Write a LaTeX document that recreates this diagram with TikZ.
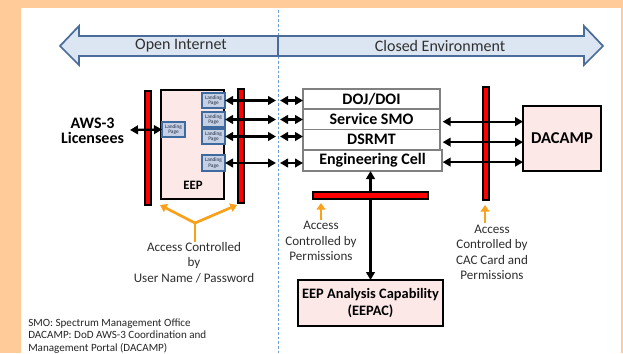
\documentclass[tikz,border=0pt]{standalone}
\usepackage{fontspec}
\setmainfont{Carlito}
\usetikzlibrary{arrows.meta}
\definecolor{bgorange}{HTML}{FFCC99}
\definecolor{bandfill}{HTML}{DCE6F2}
\definecolor{bandborder}{HTML}{4A6C9B}
\definecolor{bandtext}{HTML}{303030}
\definecolor{dashblue}{HTML}{6A9FD8}
\definecolor{boxpink}{HTML}{FDE8E8}
\definecolor{lpfill}{HTML}{C6D0E4}
\definecolor{lpborder}{HTML}{3F6AA0}
\definecolor{lptext}{HTML}{1F2A44}
\definecolor{stackgray}{HTML}{808080}
\definecolor{accorange}{HTML}{F9A11B}
\definecolor{labelgray}{HTML}{2E2E2E}
\tikzset{
  redbar/.style={draw=black, fill=red, line width=1pt, inner sep=0pt, outer sep=0pt, anchor=north west},
  pinkbox/.style={draw=black, fill=boxpink, line width=1.4pt, inner sep=0pt, outer sep=0pt, anchor=north west},
  lpbox/.style={draw=lpborder, fill=lpfill, line width=1.1pt, inner sep=0pt, outer sep=0pt, anchor=north west,
    minimum width=23*0.75pt, minimum height=15*0.75pt, align=center,
    font=\fontsize{4}{4.3}\selectfont, text=lptext},
  stackbox/.style={draw=stackgray, fill=white, line width=0.9pt, inner sep=0pt, outer sep=0pt, anchor=north west,
    minimum width=137*0.75pt, font=\bfseries\fontsize{12}{14}\selectfont},
  boldlbl/.style={font=\bfseries\fontsize{12}{11.3}\selectfont, align=center, inner sep=0pt},
  conn/.style={line width=1.7pt, {Triangle[length=6pt,width=6.5pt]}-{Triangle[length=6pt,width=6.5pt]}},
  oarrow/.style={draw=accorange, line width=2pt, -{Triangle[length=5pt,width=6.5pt]}},
  oline/.style={draw=accorange, line width=2pt},
  acctext/.style={font=\fontsize{9.8}{11.6}\selectfont, text=labelgray, align=center, inner sep=0pt},
  bandlbl/.style={font=\fontsize{12}{14}\selectfont, text=bandtext, inner sep=0pt},
}
\begin{document}
\begin{tikzpicture}[x=0.75pt, y=-0.75pt]
\useasboundingbox (0,0) rectangle (623,353);
\fill[bgorange] (0,0) rectangle (623,353);
\fill[white] (21,8) rectangle (621,353);

% dashed divider
\draw[dashblue, line width=0.6pt, dash pattern=on 2pt off 1.5pt] (278,10) -- (278,353);

% big double arrow band
\draw[fill=bandfill, draw=bandborder, line width=1.3pt, line join=miter]
  (60,46) -- (79,26) -- (79,36) -- (584,36) -- (584,26) -- (603,46) -- (584,65) -- (584,56) -- (79,56) -- (79,65) -- cycle;
\draw[bandborder, line width=1.3pt] (278,36) -- (278,56);
\node[bandlbl] (openlbl) at (181,46) {Open Internet};
\node[bandlbl] (closedlbl) at (440,46) {Closed Environment};

% AWS-3 licensees
\node[boldlbl] (aws) at (92.5,130.5) {AWS-3\\Licensees};

% red bars around EEP
\node[redbar, minimum width=6*0.75pt, minimum height=114*0.75pt] (barL) at (145,91) {};
\node[pinkbox, minimum width=63*0.75pt, minimum height=109*0.75pt] (eep) at (161,90) {};
\node[redbar, minimum width=6*0.75pt, minimum height=114*0.75pt] (barR) at (238,89) {};
\node[font=\bfseries\fontsize{9.6}{11}\selectfont, inner sep=0pt] (eeplbl) at (193,185) {EEP};

% landing pages
\node[lpbox] (lpl) at (162,122) {Landing\\Page};
\node[lpbox] (lp1) at (202,93) {Landing\\Page};
\node[lpbox] (lp2) at (202,112) {Landing\\Page};
\node[lpbox] (lp3) at (202,129) {Landing\\Page};
\node[lpbox, minimum height=16*0.75pt] (lp4) at (202,155) {Landing\\Page};

% central stack
\node[stackbox, minimum height=20*0.75pt] (doj) at (303,89) {DOJ/DOI};
\node[stackbox, minimum height=20.5*0.75pt] (smo) at (303,109) {Service SMO};
\node[stackbox, minimum height=20.5*0.75pt] (dsrmt) at (303,129.5) {DSRMT};
\node[stackbox, minimum height=21*0.75pt, minimum width=139*0.75pt] (eng) at (303,150) {Engineering Cell};

% DACAMP
\node[pinkbox, minimum width=78*0.75pt, minimum height=65*0.75pt, font=\bfseries\fontsize{12.4}{14}\selectfont] (dacamp) at (523,106) {DACAMP};
\node[redbar, minimum width=6*0.75pt, minimum height=113*0.75pt] (barD) at (483,87) {};

% EEPAC and its bar
\node[pinkbox, minimum width=145*0.75pt, minimum height=46*0.75pt, align=center,
  font=\bfseries\fontsize{10.8}{12.6}\selectfont] (eepac) at (298,280) {EEP Analysis Capability\\(EEPAC)};
\draw[conn] (eng.south -| eepac.north) -- (eepac.north);
\node[redbar, minimum width=115*0.75pt, minimum height=7*0.75pt] (hbar) at (313,192) {};

% coordinates for free ends
\coordinate (awsA) at (130,130);
\coordinate (dashL) at (276,0);
\coordinate (dashR) at (280,0);

% black connectors
\draw[conn] (awsA) -- (lpl.west);
\draw[conn] (lp1.east) -- (lp1.east -| dashL);
\draw[conn] (lp2.east) -- (lp2.east -| dashL);
\draw[conn] (lp3.east) -- (lp3.east -| dashL);
\draw[conn] (lp4.east) -- (lp4.east -| dashL);
\draw[conn] (lp1.east -| dashR) -- (lp1.east -| doj.west);
\draw[conn] (lp2.east -| dashR) -- (lp2.east -| smo.west);
\draw[conn] (lp3.east -| dashR) -- (lp3.east -| dsrmt.west);
\draw[conn] (lp4.east -| dashR) -- (lp4.east -| eng.west);
\draw[conn] ([xshift=2pt,yshift=-1.8pt]smo.east) -- ([yshift=-1.8pt]smo.east -| dacamp.west);
\draw[conn] ([xshift=2pt,yshift=-1.8pt]dsrmt.east) -- ([yshift=-1.8pt]dsrmt.east -| dacamp.west);
\draw[conn] ([xshift=0.5pt,yshift=-1.2pt]eng.east) -- ([yshift=-1.2pt]eng.east -| dacamp.west);

% access labels
\node[acctext] (ucl) at (194,262.5) {Access Controlled\\by\\User Name / Password};
\coordinate (fork) at (195,223);
\coordinate (tgtL) at (160,205);
\coordinate (tgtR) at (237,205);
\draw[oline] (ucl.north -| fork) -- (fork);
\draw[oarrow] (fork) -- (tgtL);
\draw[oarrow] (fork) -- (tgtR);

\node[acctext] (perm) at (321,241) {Access\\Controlled by\\Permissions};
\coordinate (permtip) at (321,203);
\draw[oarrow] ([yshift=1pt]perm.north) -- (permtip);

\node[acctext] (cac) at (492,252.5) {Access\\Controlled by\\CAC Card and\\Permissions};
\coordinate (cactip) at (485,205);
\draw[oarrow] ([yshift=1pt]cac.north -| cactip) -- (cactip);

% footnote
\node[anchor=north west, align=left, inner sep=0pt, font=\fontsize{8.3}{9.4}\selectfont, text=black!85] (note) at (28,318.5)
  {SMO: Spectrum Management Office\\DACAMP: DoD AWS-3 Coordination and\\Management Portal (DACAMP)};
\end{tikzpicture}
\end{document}
